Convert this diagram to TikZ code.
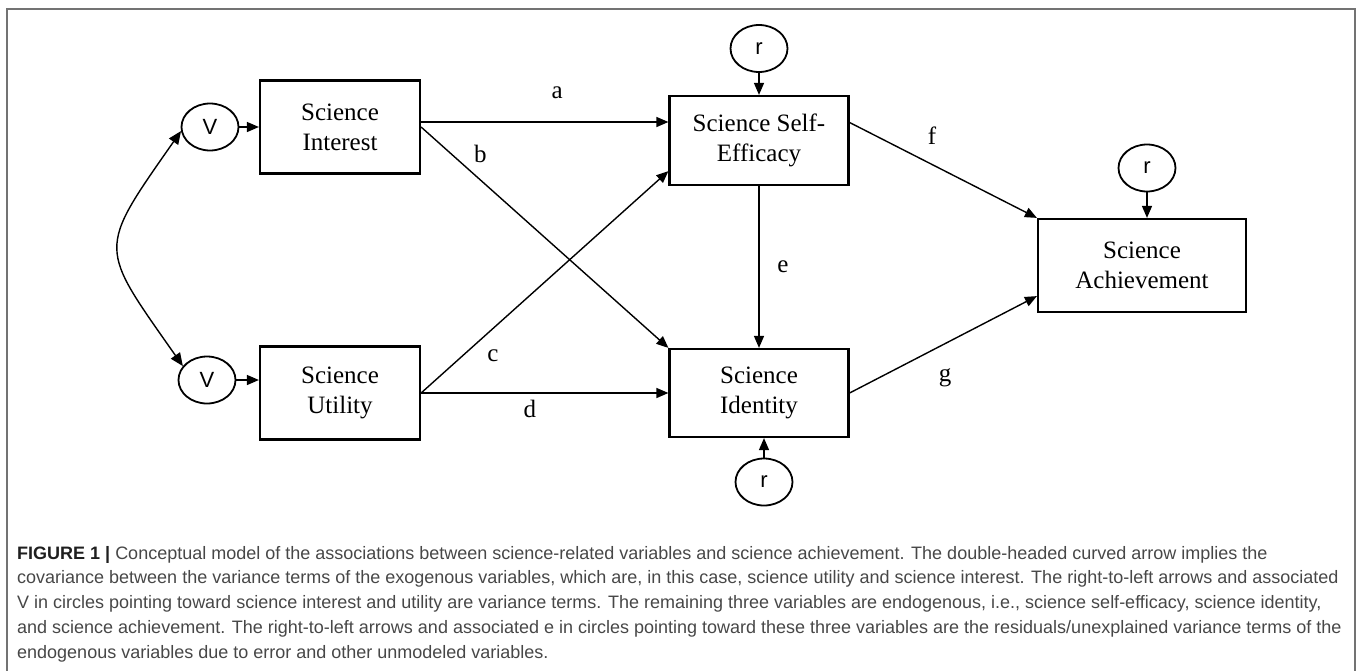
\documentclass[tikz,border=0pt]{standalone}
\usepackage{fontspec}
\setmainfont{Liberation Serif}
\newfontfamily\capfont{Liberation Sans}
\usetikzlibrary{positioning,shapes.geometric,arrows.meta}

\begin{document}
\begin{tikzpicture}[x=1pt, y=1pt,
  var/.style = {rectangle, draw, line width=2.2pt, minimum width=160pt, minimum height=93pt, inner sep=0pt, align=center, font=\fontsize{25}{30}\selectfont},
  errc/.style = {ellipse, draw, line width=1.8pt, minimum width=57pt, minimum height=47pt, inner sep=0pt, font=\capfont\fontsize{22}{22}\selectfont},
  arr/.style = {-{Triangle[length=12pt,width=10pt]}, line width=1.4pt},
  lbl/.style = {inner sep=0pt, font=\fontsize{25}{25}\selectfont}
]
\useasboundingbox (0,0) rectangle (1358,-670);
\draw[black!55, line width=1.6pt] (7,-672) -- (7,-9) -- (1355,-9) -- (1355,-672);

\node[var](interest) at (340,-127){Science\\Interest};
\node[errc, left of = interest, node distance = 130pt](vI){V};
\node[var, below of = interest, node distance = 266pt](utility){Science\\Utility};
\node[errc, left of = utility, node distance = 133pt, yshift = 13pt](vU){V};
\node[var, minimum width = 179pt, minimum height = 89pt](selfeff) at (759,-140.5){Science Self-\\Efficacy};
\node[errc, above of = selfeff, node distance = 92pt](rS){r};
\node[var, minimum width = 179pt, minimum height = 88pt, below of = selfeff, node distance = 252.5pt](identity){Science\\Identity};
\node[errc, below of = identity, node distance = 89pt, xshift = 5pt](rI){r};
\node[var, minimum width = 208pt](achieve) at (1142,-265.5){Science\\Achievement};
\node[errc, above of = achieve, node distance = 97.5pt, xshift = 5pt](rA){r};

\path[arr]
(vI) edge (interest)
(vU) edge (vU -| utility.west)
([yshift=5pt]interest.east) edge node[lbl, pos=.55, yshift=29pt]{a} ([yshift=5pt]interest.east -| selfeff.west)
(interest.east) edge node[lbl, pos=.24, yshift=26pt]{b} (identity.north west)
(utility.east) edge node[lbl, pos=.29, yshift=-27pt]{c} ([yshift=15pt]selfeff.south west)
(utility.east) edge node[lbl, pos=.44, yshift=-16pt]{d} (identity.west)
(selfeff) edge node[lbl, pos=.5, xshift=24pt]{e} (identity)
([yshift=18pt]selfeff.east) edge node[lbl, pos=.44, yshift=29pt]{f} (achieve.north west)
(identity.east) edge node[lbl, pos=.51, yshift=-34pt]{g} ([yshift=17pt]achieve.south west)
(rS) edge (rS |- selfeff.north)
(rI) edge (rI |- identity.south)
(rA) edge (rA |- achieve.north)
;
\draw[{Triangle[length=13pt,width=11pt]}-{Triangle[length=13pt,width=11pt]}, line width=1.4pt]
(vI.188) to[out=235, in=125, looseness=1.6] (vU.150);

\node[anchor=north west, inner sep=0pt, align=left, text=black!72, font=\capfont\fontsize{18}{24.7}\selectfont](caption) at (17,-546){{\color{black!88}\bfseries FIGURE 1 |} Conceptual model of the associations between science-related variables and science achievement. The double-headed curved arrow implies the\\
covariance between the variance terms of the exogenous variables, which are, in this case, science utility and science interest. The right-to-left arrows and associated\\
V in circles pointing toward science interest and utility are variance terms. The remaining three variables are endogenous, i.e., science self-efficacy, science identity,\\
and science achievement. The right-to-left arrows and associated e in circles pointing toward these three variables are the residuals/unexplained variance terms of the\\
endogenous variables due to error and other unmodeled variables.};
\end{tikzpicture}
\end{document}
